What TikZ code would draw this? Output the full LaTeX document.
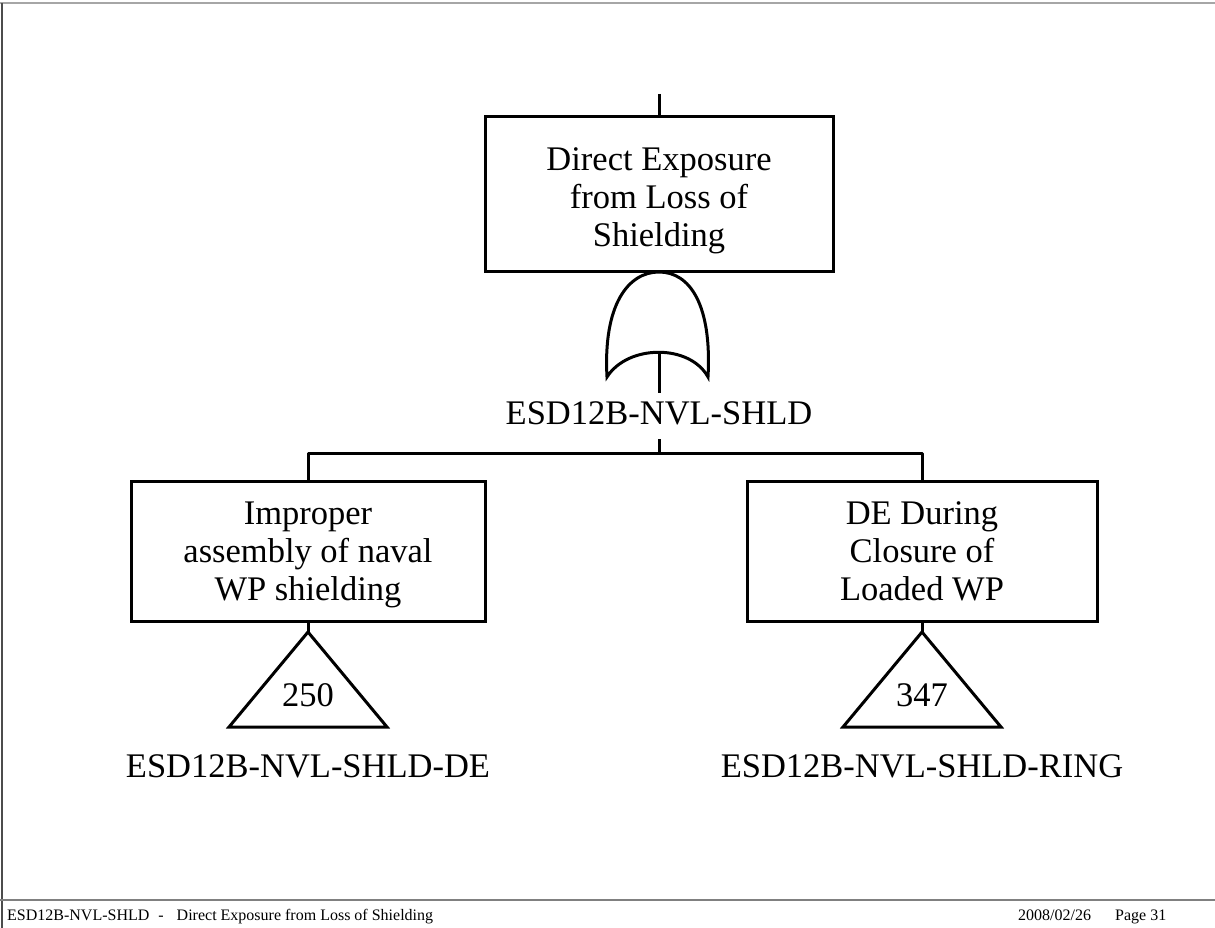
\documentclass[tikz,border=0pt]{standalone}
\usepackage{fontspec}
\setmainfont{Liberation Serif}
\newcommand\bigtxt{\fontsize{34.5pt}{38pt}\selectfont}
\newcommand\footfnt{\fontsize{16pt}{19pt}\selectfont}
\begin{document}
\begin{tikzpicture}[x=1pt,y=-1pt,
  lw/.style={line width=3pt},
  evbox/.style={draw, line width=3pt, inner sep=0pt},
  boxtxt/.style={align=center, font=\bigtxt, inner sep=0pt},
  lbl/.style={font=\bigtxt, inner sep=0pt},
  foot/.style={font=\footfnt, inner sep=0pt, anchor=base west}]
\fill[white] (0,0) rectangle (1215,928);
\useasboundingbox (0,0) rectangle (1215,928);
% frame
\draw[black!35, line width=2pt] (0,3) -- (1215,3);
\draw[black!70, line width=2pt] (2,3) -- (2,928);
\draw[black!50, line width=1.2pt] (0,900) -- (1215,900);
% top event
\coordinate (topin) at (659,94);
\node[evbox, minimum width=348pt, minimum height=154pt] (top) at (659,194) {};
\node[boxtxt] (toptxt) at ([yshift=-6.5pt]top.center) {Direct Exposure\\from Loss of\\Shielding};
\draw[lw] (topin) -- (top.north);
% OR gate
\coordinate (gtop) at (659,272);
\coordinate (gin) at (659,352);
\draw[lw] (607,377) .. controls (603,305) and (628,272) .. (gtop)
  .. controls (690,272) and (712,305) .. (708,377)
  .. controls (690,344) and (628,344) .. (607,377) -- cycle;
\coordinate (bar) at (659,453);
\draw[lw] (gin) -- (bar);
\node[lbl, fill=white, inner xsep=2pt, inner ysep=9pt, text depth=6pt] (glabel) at (659,416) {ESD12B-NVL-SHLD};
% children
\node[evbox, minimum width=354pt, minimum height=140pt] (lbox) at (308,551) {};
\node[boxtxt] (lboxtxt) at ([yshift=-3.75pt]lbox.center) {Improper\\assembly of naval\\WP shielding};
\node[evbox, minimum width=350pt, minimum height=140pt] (rbox) at (922,551) {};
\node[boxtxt] (rboxtxt) at (rbox.center) {DE During\\Closure of\\Loaded WP};
\draw[lw, line join=round] (lbox.north) |- (bar) -| (rbox.north);
% transfer triangles
\coordinate (lapex) at (308,632);
\coordinate (rapex) at (922,632);
\draw[lw] (lbox.south) -- (lapex);
\draw[lw] (rbox.south) -- (rapex);
\draw[lw] (lapex) -- (229,727) -- (387,727) -- cycle;
\draw[lw] (rapex) -- (843,727) -- (1001,727) -- cycle;
\node[lbl] (n250) at (308,695) {250};
\node[lbl] (n347) at (922,695) {347};
\node[lbl] (llab) at (308,766) {ESD12B-NVL-SHLD-DE};
\node[lbl] (rlab) at (922,766) {ESD12B-NVL-SHLD-RING};
% footer
\node[foot] (fl) at (7,920) {ESD12B-NVL-SHLD\hspace{9pt}-\hspace{13pt}Direct Exposure from Loss of Shielding};
\node[foot] (fd) at (1018,920) {2008/02/26};
\node[foot] (fp) at (1115,920) {Page 31};
\end{tikzpicture}
\end{document}
